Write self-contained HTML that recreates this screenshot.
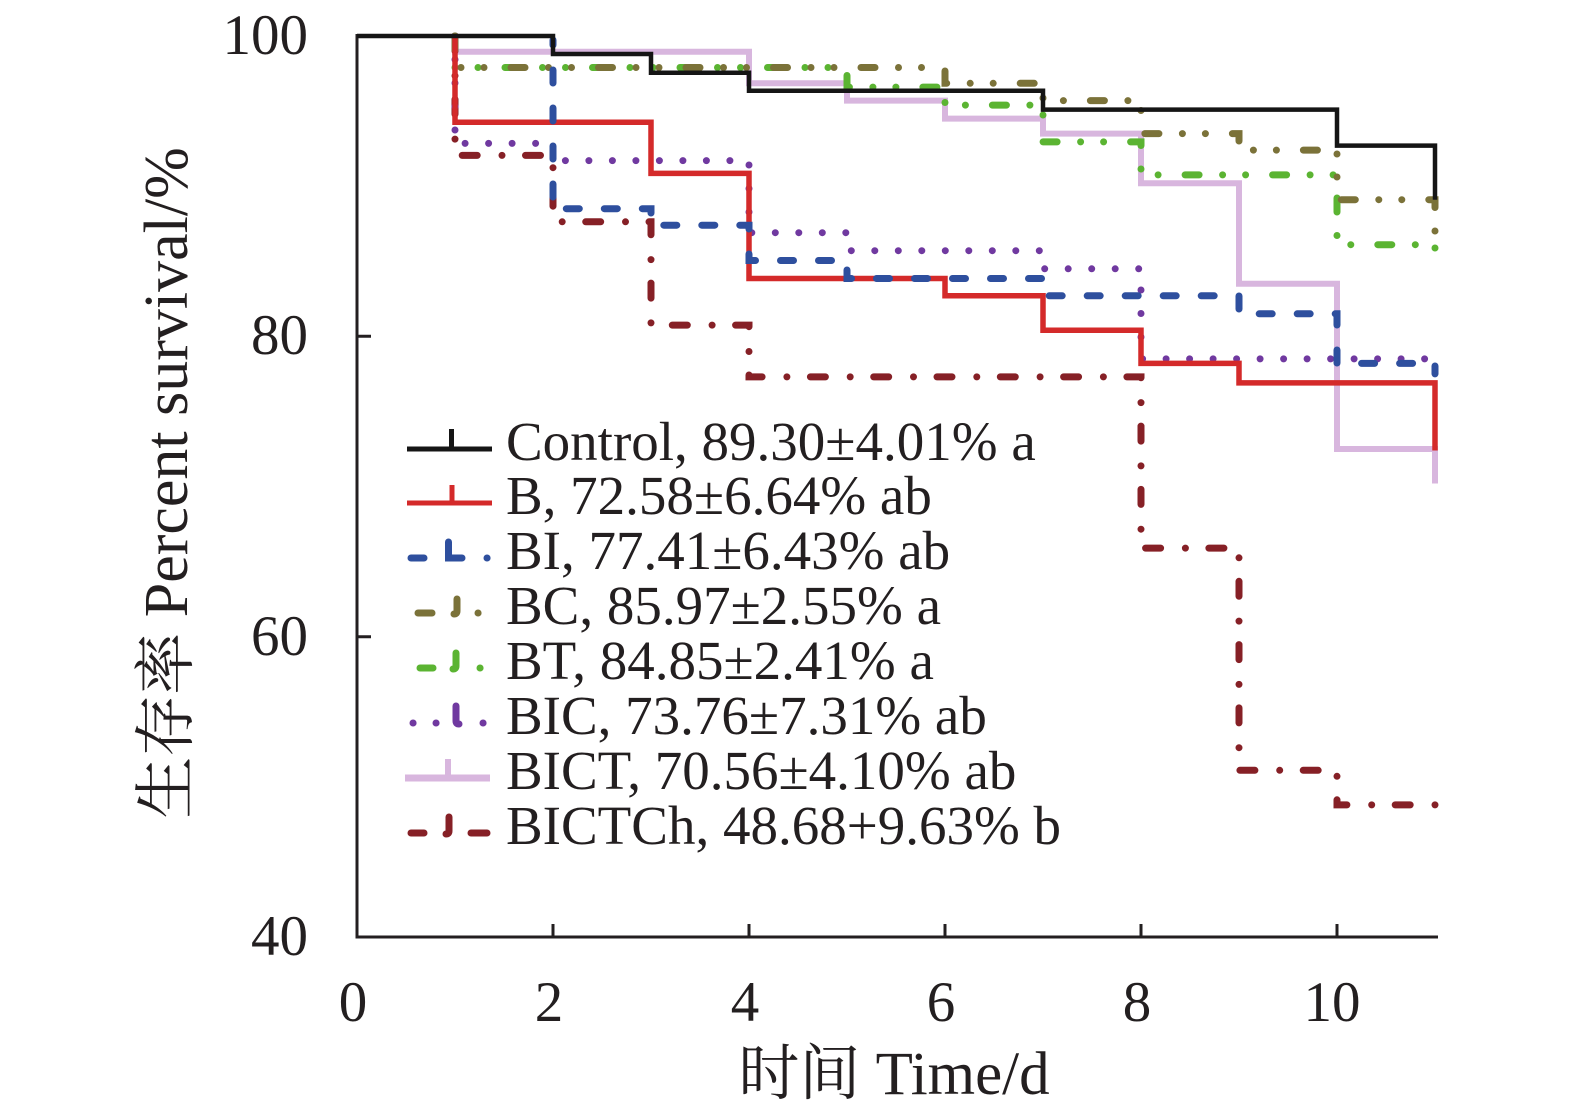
<!DOCTYPE html>
<html>
<head>
<meta charset="utf-8">
<style>
  html, body { margin:0; padding:0; background:#ffffff; }
  svg { display:block; }
  text { font-family: "Liberation Serif", "Noto Serif CJK SC", serif; fill:#231f20; }
</style>
</head>
<body>
<svg width="1575" height="1119" viewBox="0 0 1575 1119" xmlns="http://www.w3.org/2000/svg">
  <rect x="0" y="0" width="1575" height="1119" fill="#ffffff"/>

  <!-- Axes -->
  <g stroke="#231f20" stroke-width="3" fill="none">
    <path d="M357,34 V937 H1438"/>
    <path d="M357,36 H371 M357,336.3 H371 M357,636.7 H371"/>
    <path d="M553,937 V924 M749,937 V924 M945,937 V924 M1141,937 V924 M1337,937 V924"/>
  </g>

  <!-- Y tick labels -->
  <g font-size="57" text-anchor="end">
    <text x="308" y="54">100</text>
    <text x="308" y="354">80</text>
    <text x="308" y="655">60</text>
    <text x="308" y="955">40</text>
  </g>
  <!-- X tick labels -->
  <g font-size="57" text-anchor="middle">
    <text x="353" y="1021">0</text>
    <text x="549" y="1021">2</text>
    <text x="745" y="1021">4</text>
    <text x="941" y="1021">6</text>
    <text x="1137" y="1021">8</text>
    <text x="1332" y="1021">10</text>
  </g>

  <!-- Axis titles -->
  <text x="894" y="1094" font-size="61" text-anchor="middle">时间 Time/d</text>
  <text transform="translate(187,483) rotate(-90)" font-size="62" text-anchor="middle">生存率 Percent survival/%</text>

  <!-- Series (bottom to top) -->
  <g fill="none">
    <path d="M455,33 V51.8 H749 V83.3 H847 V100.6 H945 V118.6 H1043 V133.6 H1141 V183.2 H1239 V283.8 H1337 V449 H1435 V483.5"
          stroke="#d8b6de" stroke-width="6"/>
    <path d="M455,36 V155.4 H553 V221.8 H651 V325.1 H749 V376.9 H1141 V548.1 H1239 V770.3 H1337 V804.9 H1435 V785"
          stroke="#862026" stroke-width="7" stroke-linecap="round" stroke-dasharray="15 24.8 0 23.5"/>
    <path d="M455,36 V143.4 H553 V160.6 H749 V232.7 H847 V250.7 H1043 V268.8 H1141 V358.9 H1435 V360"
          stroke="#7039a0" stroke-width="7" stroke-linecap="round" stroke-dasharray="0 23.5"/>
    <path d="M455,36 V67.5 H847 V87.1 H945 V105.1 H1043 V141.9 H1141 V174.9 H1337 V244.7 H1435 V262.8"
          stroke="#5bb432" stroke-width="7" stroke-linecap="round" stroke-dasharray="14 23.5 0 23 0 27" stroke-dashoffset="6"/>
    <path d="M455,36 V67.5 H945 V83.3 H1043 V100.6 H1141 V133.6 H1239 V150.1 H1337 V199.7 H1435 V246.2"
          stroke="#7b7239" stroke-width="7" stroke-linecap="round" stroke-dasharray="14 23.5 0 23 0 27"/>
    <path d="M455,36 V122.3 H651 V173.4 H749 V278.5 H945 V295.8 H1043 V330.3 H1141 V363.4 H1239 V382.9 H1435 V450.5"
          stroke="#d42a2a" stroke-width="5.5"/>
    <path d="M553,40 V208.7 H651 V225.2 H749 V260.5 H847 V278.5 H1043 V295.8 H1239 V313.8 H1337 V363.4 H1435 V373.9"
          stroke="#2e4f9e" stroke-width="7" stroke-linecap="round" stroke-dasharray="13 25" stroke-dashoffset="-30"/>
    <path d="M357,36 H553 V54 H651 V72.8 H749 V90.8 H1043 V109.6 H1337 V145.6 H1435 V199.7"
          stroke="#151515" stroke-width="4.5"/>
  </g>

  <!-- Legend samples -->
  <g fill="none">
    <path d="M407,449 H492" stroke="#151515" stroke-width="5"/>
    <path d="M451.5,429 V449" stroke="#151515" stroke-width="5"/>
    <path d="M407,503 H492" stroke="#d42a2a" stroke-width="5"/>
    <path d="M452,485 V503" stroke="#d42a2a" stroke-width="5"/>
    <g stroke="#2e4f9e" stroke-width="7" stroke-linecap="round">
      <path d="M411,558 H424"/>
      <path d="M448.5,542 V558 H462"/>
      <path d="M487,558 H487.1"/>
    </g>
    <g stroke="#7b7239" stroke-width="7" stroke-linecap="round">
      <path d="M418,613 H432"/>
      <path d="M457,599 V611 Q457,614 454,614"/>
      <path d="M478,613 H478.1"/>
    </g>
    <g stroke="#5bb432" stroke-width="7" stroke-linecap="round">
      <path d="M420,668 H433"/>
      <path d="M456,653 V666 Q456,669 453,669"/>
      <path d="M480,668 H480.1"/>
    </g>
    <g stroke="#7039a0" stroke-width="7" stroke-linecap="round">
      <path d="M413,723 H413.1"/>
      <path d="M436,723 H436.1"/>
      <path d="M456,706 V721 Q456,724 459,724"/>
      <path d="M483,723 H483.1"/>
    </g>
    <path d="M405,778 H490" stroke="#d8b6de" stroke-width="7"/>
    <path d="M448,759 V778" stroke="#d8b6de" stroke-width="6"/>
    <g stroke="#862026" stroke-width="7" stroke-linecap="round">
      <path d="M411,833 H424"/>
      <path d="M449,817 V831 Q449,834 446,834"/>
      <path d="M471,833 H487"/>
    </g>
  </g>

  <!-- Legend text -->
  <g font-size="55">
    <text x="506" y="460">Control, 89.30±4.01% a</text>
    <text x="506" y="514">B, 72.58±6.64% ab</text>
    <text x="506" y="569">BI, 77.41±6.43% ab</text>
    <text x="506" y="624">BC, 85.97±2.55% a</text>
    <text x="506" y="679">BT, 84.85±2.41% a</text>
    <text x="506" y="734">BIC, 73.76±7.31% ab</text>
    <text x="506" y="789">BICT, 70.56±4.10% ab</text>
    <text x="506" y="844">BICTCh, 48.68+9.63% b</text>
  </g>
</svg>
</body>
</html>
